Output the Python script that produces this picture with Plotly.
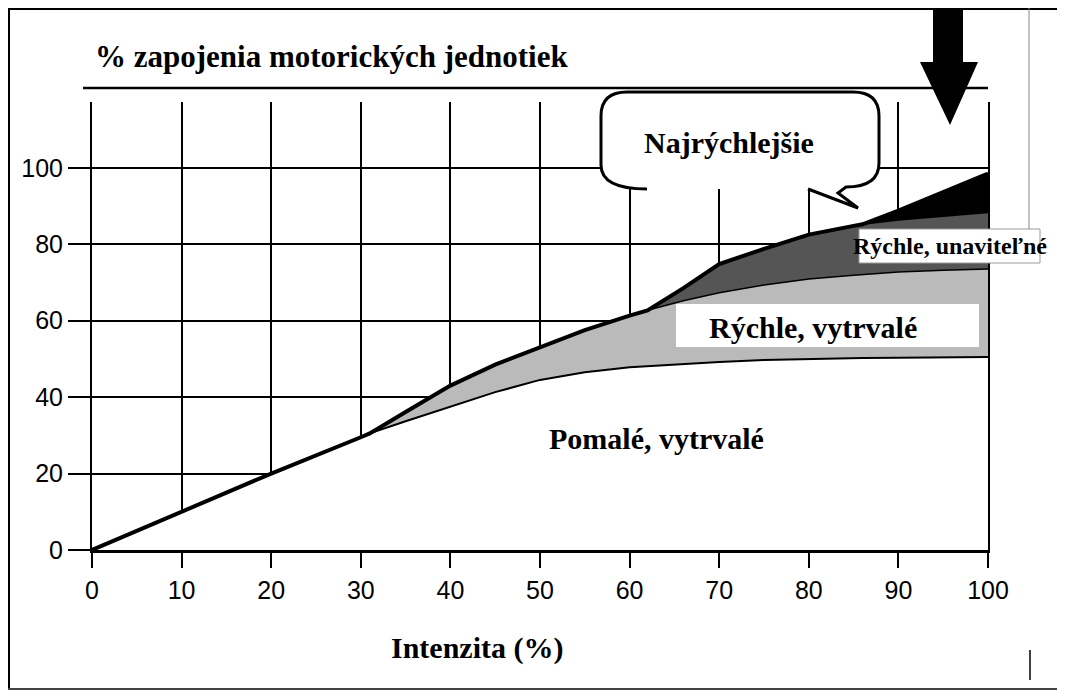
import plotly.graph_objects as go

# ── Data: % recruitment of motor units vs. intensity ──
intenzita = [0, 10, 20, 30, 31, 35, 40, 45, 50, 55, 60, 62, 66, 70, 75, 80, 85, 86, 90, 95, 100]
pomale = [0, 10, 20, 29.5, 30.5, 33.7, 37.4, 41.3, 44.5, 46.5, 47.8, 48.1, 48.7, 49.2, 49.7, 50.0, 50.2, 50.2, 50.3, 50.4, 50.5]
rychle_vytrvale = [0, 10, 20, 29.5, 30.5, 36.1, 43, 48.5, 53, 57.5, 61.3, 62.7, 65.2, 67.3, 69.3, 70.9, 71.9, 72.1, 72.7, 73.2, 73.5]
rychle_unavitelne = [0, 10, 20, 29.5, 30.5, 36.1, 43, 48.5, 53, 57.5, 61.3, 62.7, 68.5, 74.8, 78.8, 82.5, 84.8, 85.2, 86.3, 87.3, 88.3]
najrychlejsie = [0, 10, 20, 29.5, 30.5, 36.1, 43, 48.5, 53, 57.5, 61.3, 62.7, 68.5, 74.8, 78.8, 82.5, 84.8, 85.2, 88.8, 93.7, 98.5]

x_ticks = [0, 10, 20, 30, 40, 50, 60, 70, 80, 90, 100]
y_ticks = [0, 20, 40, 60, 80, 100]

SERIF = "Liberation Serif"
SANS = "Liberation Sans"
LIGHT = "#bababa"
DARK = "#555555"

# the page body adds an 8px margin, so the figure is drawn 8px smaller and shifted
OFF = 8


def paper(X, Y):
    """page pixel position -> paper coordinates (plot area 92..988 x 102..550)"""
    return (X - 92) / 896, (550 - Y) / 448


def seg(x0, y0, x1, y1, color="black", width=2):
    a, b = paper(x0, y0)
    c, d = paper(x1, y1)
    return dict(type="line", xref="paper", yref="paper", x0=a, y0=b, x1=c, y1=d,
                line=dict(color=color, width=width), layer="above")


def box(x0, y0, x1, y1, fill="white", line_color=None, width=0):
    a, b = paper(x0, y0)
    c, d = paper(x1, y1)
    return dict(type="rect", xref="paper", yref="paper", x0=a, y0=b, x1=c, y1=d,
                fillcolor=fill, line=dict(color=line_color or fill, width=width), layer="above")


def path(cmds, fill=None, line_color="black", width=0, close=False):
    parts = []
    for c in cmds:
        op, pts = c[0], c[1:]
        coords = " ".join("%.5f,%.5f" % paper(*p) for p in pts)
        parts.append(op + " " + coords)
    d = " ".join(parts) + (" Z" if close else "")
    sh = dict(type="path", xref="paper", yref="paper", path=d, layer="above",
              line=dict(color=line_color, width=width))
    if fill:
        sh["fillcolor"] = fill
    return sh


fig = go.Figure()
fig.add_trace(go.Scatter(x=intenzita, y=pomale, fill="tozeroy", fillcolor="white",
                         mode="lines", line=dict(color="black", width=2)))
fig.add_trace(go.Scatter(x=intenzita, y=rychle_vytrvale, fill="tonexty", fillcolor=LIGHT,
                         mode="lines", line=dict(color="black", width=1.5)))
fig.add_trace(go.Scatter(x=intenzita, y=rychle_unavitelne, fill="tonexty", fillcolor=DARK,
                         mode="lines", line=dict(color="black", width=1.5)))
fig.add_trace(go.Scatter(x=intenzita, y=najrychlejsie, fill="tonexty", fillcolor="black",
                         mode="lines", line=dict(color="black", width=4)))

callout = [("M", (647, 189)), ("Q", (601, 189), (601, 165)), ("L", (601, 116)),
           ("Q", (601, 92), (627, 92)), ("L", (853, 92)), ("Q", (879, 92), (879, 116)),
           ("L", (879, 163)), ("Q", (879, 187), (846, 187)), ("L", (838, 193)),
           ("L", (858, 208)), ("L", (808, 189))]

shapes = [
    # top rule of the chart
    seg(83, 88, 988, 88, width=2.5),
    # callout bubble
    path(callout, fill="white", width=0, close=True),
    path(callout, width=3),
    # big arrow
    path([("M", (933, 8)), ("L", (963, 8)), ("L", (963, 62)), ("L", (978, 62)),
          ("L", (950, 125)), ("L", (920, 62)), ("L", (933, 62))], fill="black", width=0, close=True),
    # label boxes
    box(676, 304, 979, 347),
    box(859, 229, 1040, 263, line_color="#9a9a9a", width=1),
    # page frame
    seg(8, 9, 1062, 9, width=2),
    seg(9, 8, 9, 690, width=2),
    seg(8, 689, 1062, 689, color="#444", width=2),
    seg(1062, 8, 1062, 590, width=1.5),
    seg(1062, 618, 1062, 690, width=1.5),
    seg(1029, 8, 1029, 229, color="#888", width=1),
    seg(1030, 650, 1030, 680, width=1.5),
]


def label(text, X, Y, size=30, xanchor="center"):
    a, b = paper(X, Y)
    return dict(text=text, x=a, y=b, xref="paper", yref="paper", showarrow=False,
                xanchor=xanchor, yanchor="middle",
                font=dict(family=SERIF, size=size, color="black", weight="bold"))


annotations = [
    label("% zapojenia motorických jednotiek", 93, 57, size=31, xanchor="left"),
    label("Intenzita (%)", 477, 648),
    label("Pomalé, vytrvalé", 656, 438),
    label("Rýchle, vytrvalé", 813, 327),
    label("Rýchle, unaviteľné", 950, 246, size=24),
    label("Najrýchlejšie", 729, 142),
]

fig.update_layout(
    width=1065 - OFF, height=692 - OFF,
    margin=dict(l=92 - OFF, r=1065 - 988, t=102 - OFF, b=692 - 550),
    paper_bgcolor="white", plot_bgcolor="white",
    showlegend=False,
    shapes=shapes,
    annotations=annotations,
)
fig.update_xaxes(
    range=[0, 100], tickvals=x_ticks, showgrid=True, gridcolor="black", gridwidth=2,
    zeroline=False, showline=True, linecolor="black", linewidth=3,
    ticks="outside", ticklen=15, tickwidth=2, tickcolor="black",
    tickfont=dict(family=SANS, size=25, color="black"), ticklabelstandoff=1,
)
fig.update_yaxes(
    range=[0, 117.2], tickvals=y_ticks, showgrid=True, gridcolor="black", gridwidth=2,
    zeroline=False, showline=True, mirror=True, linecolor="black", linewidth=2,
    ticks="outside", ticklen=22, tickwidth=2, tickcolor="black",
    tickfont=dict(family=SANS, size=25, color="black"), ticklabelstandoff=0,
)

fig.write_html("out.html")
